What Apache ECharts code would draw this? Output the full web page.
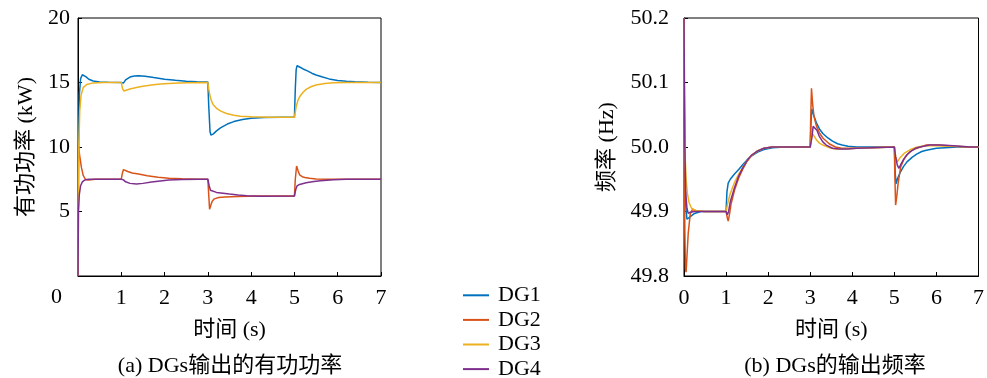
<!DOCTYPE html>
<html><head><meta charset="utf-8">
<script src="https://cdn.jsdelivr.net/npm/echarts@6/dist/echarts.min.js"></script>
<style>html,body{margin:0;padding:0;background:#fff}#c{width:987px;height:378px}</style>
</head><body><div id="c"></div>
<script>
// ---- data ----
const seriesNames = ['DG1','DG2','DG3','DG4'];
const colors = ['#0072BD','#D95319','#EDB120','#7E2F8E'];
const xTicks = [0,1,2,3,4,5,6,7];
const powerTicks = [0,5,10,15,20];
const freqTicks = [49.8,49.9,50.0,50.1,50.2];

// (a) active power, kW  [time s, value]
const powerDG1 = [[0,0],[0.01,9],[0.03,14],[0.06,15.3],[0.1,15.6],[0.13,15.63],[0.18,15.45],[0.25,15.25],[0.35,15.12],[0.5,15.04],[0.7,15.01],[1.0,15.0],[1.02,14.88],[1.05,14.95],[1.1,15.2],[1.2,15.42],[1.3,15.51],[1.4,15.53],[1.55,15.48],[1.75,15.38],[2.0,15.26],[2.25,15.17],[2.5,15.1],[2.75,15.06],[3.0,15.03],[3.02,13.2],[3.05,11.2],[3.07,10.93],[3.12,11.0],[3.2,11.25],[3.3,11.5],[3.45,11.78],[3.6,11.97],[3.8,12.13],[4.0,12.22],[4.3,12.29],[4.7,12.31],[5.0,12.3],[5.02,14.5],[5.04,16.0],[5.06,16.3],[5.12,16.2],[5.2,16.05],[5.3,15.9],[5.4,15.72],[5.5,15.58],[5.65,15.42],[5.8,15.28],[6.0,15.16],[6.2,15.09],[6.4,15.05],[6.7,15.01],[7.0,15.0]];
const powerDG2 = [[0,0],[0.01,10.1],[0.04,9.3],[0.08,8.4],[0.12,7.8],[0.17,7.5],[0.25,7.45],[0.4,7.5],[1.0,7.5],[1.02,7.9],[1.05,8.25],[1.08,8.25],[1.15,8.1],[1.25,7.98],[1.4,7.9],[1.6,7.78],[1.85,7.65],[2.1,7.58],[2.4,7.53],[2.8,7.5],[3.0,7.5],[3.02,6.3],[3.04,5.17],[3.07,5.5],[3.1,5.8],[3.15,5.98],[3.25,6.08],[3.4,6.13],[3.7,6.17],[4.2,6.2],[5.0,6.2],[5.02,7.5],[5.05,8.53],[5.08,8.2],[5.12,7.83],[5.18,7.7],[5.24,7.64],[5.35,7.57],[5.5,7.52],[5.8,7.5],[7.0,7.5]];
const powerDG3 = [[0,0],[0.01,5],[0.02,10.2],[0.04,12.8],[0.07,14.0],[0.12,14.6],[0.2,14.85],[0.35,14.97],[0.6,15.0],[1.0,15.0],[1.03,14.5],[1.06,14.34],[1.1,14.4],[1.2,14.5],[1.35,14.62],[1.5,14.71],[1.7,14.8],[1.9,14.88],[2.2,14.95],[2.5,14.99],[3.0,15.0],[3.02,14.5],[3.05,13.95],[3.08,13.6],[3.12,13.3],[3.2,13.0],[3.3,12.78],[3.43,12.6],[3.6,12.46],[3.75,12.39],[4.0,12.34],[4.4,12.31],[5.0,12.3],[5.02,12.7],[5.04,13.12],[5.08,13.6],[5.12,13.9],[5.2,14.25],[5.27,14.47],[5.38,14.67],[5.5,14.81],[5.7,14.93],[5.9,14.98],[6.2,15.0],[7.0,15.0]];
const powerDG4 = [[0,0],[0.01,5.0],[0.03,6.3],[0.06,7.0],[0.1,7.3],[0.16,7.45],[0.25,7.5],[1.0,7.5],[1.02,7.62],[1.05,7.45],[1.1,7.3],[1.2,7.18],[1.35,7.13],[1.5,7.18],[1.7,7.28],[1.9,7.37],[2.1,7.44],[2.4,7.49],[2.8,7.5],[3.0,7.5],[3.03,7.0],[3.06,6.65],[3.1,6.55],[3.2,6.48],[3.35,6.42],[3.5,6.35],[3.7,6.27],[3.9,6.22],[4.2,6.19],[5.0,6.2],[5.03,6.7],[5.06,6.98],[5.12,7.1],[5.27,7.23],[5.45,7.33],[5.6,7.39],[5.9,7.47],[6.2,7.5],[7.0,7.5]];

// (b) frequency, Hz  [time s, value]
const freqDG1 = [[0,50.2],[0.01,50.05],[0.02,49.97],[0.04,49.91],[0.07,49.888],[0.1,49.888],[0.15,49.892],[0.25,49.897],[0.4,49.9],[1.0,49.9],[1.02,49.93],[1.05,49.944],[1.1,49.95],[1.2,49.958],[1.3,49.965],[1.4,49.973],[1.5,49.98],[1.6,49.986],[1.75,49.992],[1.9,49.996],[2.1,49.999],[2.4,50.0],[3.0,50.0],[3.02,50.04],[3.04,50.059],[3.08,50.05],[3.15,50.037],[3.22,50.028],[3.3,50.021],[3.42,50.014],[3.53,50.009],[3.65,50.005],[3.76,50.003],[3.9,50.001],[4.1,50.0],[5.0,50.0],[5.02,49.96],[5.04,49.943],[5.08,49.952],[5.15,49.962],[5.22,49.97],[5.3,49.977],[5.42,49.984],[5.53,49.989],[5.65,49.993],[5.76,49.995],[6.0,49.998],[6.2,49.999],[6.5,50.0],[7.0,50.0]];
const freqDG2 = [[0,50.2],[0.01,50.0],[0.02,49.87],[0.035,49.81],[0.05,49.806],[0.07,49.83],[0.1,49.866],[0.15,49.897],[0.2,49.903],[0.3,49.901],[0.5,49.9],[1.0,49.9],[1.03,49.89],[1.05,49.885],[1.08,49.895],[1.12,49.912],[1.2,49.933],[1.3,49.952],[1.4,49.966],[1.5,49.978],[1.6,49.986],[1.75,49.994],[1.9,49.998],[2.1,50.0],[3.0,50.0],[3.01,50.04],[3.03,50.091],[3.06,50.065],[3.09,50.047],[3.15,50.032],[3.22,50.022],[3.3,50.014],[3.45,50.005],[3.6,50.0],[3.75,49.998],[4.0,49.998],[4.3,49.999],[5.0,50.0],[5.01,49.96],[5.03,49.91],[5.06,49.925],[5.09,49.944],[5.15,49.969],[5.22,49.98],[5.3,49.988],[5.42,49.995],[5.53,49.998],[5.76,50.003],[6.0,50.003],[6.3,50.002],[6.7,50.0],[7.0,50.0]];
const freqDG3 = [[0,50.2],[0.01,50.08],[0.03,49.98],[0.05,49.95],[0.08,49.928],[0.12,49.914],[0.18,49.905],[0.3,49.901],[0.5,49.9],[1.0,49.9],[1.03,49.91],[1.06,49.918],[1.1,49.928],[1.2,49.945],[1.3,49.958],[1.4,49.969],[1.5,49.979],[1.6,49.987],[1.75,49.994],[1.9,49.998],[2.1,50.0],[3.0,50.0],[3.03,50.015],[3.06,50.02],[3.1,50.016],[3.15,50.011],[3.22,50.006],[3.3,50.003],[3.45,49.999],[3.6,49.997],[3.8,49.997],[4.1,49.998],[4.5,49.999],[5.0,50.0],[5.03,49.985],[5.07,49.977],[5.12,49.982],[5.23,49.99],[5.38,49.996],[5.55,50.0],[5.75,50.002],[6.0,50.002],[6.3,50.001],[7.0,50.0]];
const freqDG4 = [[0,50.2],[0.01,50.1],[0.02,50.0],[0.04,49.93],[0.07,49.905],[0.1,49.897],[0.15,49.899],[0.25,49.9],[1.0,49.9],[1.03,49.895],[1.06,49.9],[1.1,49.915],[1.2,49.937],[1.3,49.955],[1.4,49.968],[1.5,49.979],[1.6,49.987],[1.75,49.994],[1.9,49.998],[2.1,50.0],[3.0,50.0],[3.04,50.015],[3.07,50.032],[3.11,50.034],[3.16,50.026],[3.22,50.016],[3.3,50.008],[3.38,50.003],[3.53,49.998],[3.7,49.997],[3.9,49.997],[4.1,49.998],[4.5,49.999],[5.0,50.0],[5.03,49.985],[5.07,49.972],[5.11,49.967],[5.16,49.974],[5.23,49.982],[5.3,49.988],[5.38,49.993],[5.5,49.998],[5.61,50.0],[5.84,50.003],[6.1,50.003],[6.4,50.002],[6.8,50.0],[7.0,50.0]];

const powerData = [powerDG1, powerDG2, powerDG3, powerDG4];
const freqData = [freqDG1, freqDG2, freqDG3, freqDG4];

// ---- chart ----
const FONT = "'Liberation Serif','Noto Sans CJK SC',serif";
const FS = 22;   // names, captions, legend
const TS = 22;   // tick labels
const chart = echarts.init(document.getElementById('c'), null, {renderer: 'canvas'});

function xAxisCfg(gridIndex, hideZero) {
  return {
    type: 'value', gridIndex, min: xTicks[0], max: xTicks[xTicks.length-1], interval: 1,
    name: '时间 (s)', nameLocation: 'middle', nameGap: 43,
    nameTextStyle: {fontFamily: FONT, fontSize: FS, color: '#000'},
    axisLine: {show: true, lineStyle: {color: '#000', width: 1}},
    axisTick: {show: true, inside: true, length: 4, lineStyle: {color: '#000'}},
    axisLabel: {show: true, margin: 11, fontFamily: FONT, fontSize: TS, color: '#000',
      formatter: v => (hideZero && v === 0) ? '' : String(v)},
    splitLine: {show: false}
  };
}

const series = [];
seriesNames.forEach((n, i) => {
  series.push({name: n, type: 'line', xAxisIndex: 0, yAxisIndex: 0, data: powerData[i],
    showSymbol: false, symbol: 'none', lineStyle: {width: 1.5, color: colors[i]}, itemStyle: {color: colors[i]},
    animation: false, z: 2 + i});
});
seriesNames.forEach((n, i) => {
  series.push({name: n, type: 'line', xAxisIndex: 1, yAxisIndex: 1, data: freqData[i],
    showSymbol: false, symbol: 'none', lineStyle: {width: 1.5, color: colors[i]}, itemStyle: {color: colors[i]},
    animation: false, z: 2 + i});
});

chart.setOption({
  animation: false,
  backgroundColor: '#fff',
  grid: [
    {left: 78, top: 18, width: 303, height: 258, show: true, borderColor: '#000', borderWidth: 1, backgroundColor: 'transparent'},
    {left: 684, top: 18, width: 302, height: 258, show: true, borderColor: '#000', borderWidth: 1, backgroundColor: 'transparent'}
  ],
  xAxis: [xAxisCfg(0, true), xAxisCfg(1, false)],
  yAxis: [
    {type: 'value', gridIndex: 0, min: powerTicks[0], max: powerTicks[powerTicks.length-1], interval: 5,
      name: '有功功率 (kW)', nameLocation: 'middle', nameRotate: 90, nameGap: 41,
      nameTextStyle: {fontFamily: FONT, fontSize: FS, color: '#000'},
      axisLine: {show: true, lineStyle: {color: '#000'}},
      axisTick: {show: true, inside: true, length: 4, lineStyle: {color: '#000'}},
      axisLabel: {margin: 8, fontFamily: FONT, fontSize: TS, color: '#000', formatter: v => v === 0 ? '' : String(v)},
      splitLine: {show: false}},
    {type: 'value', gridIndex: 1, min: freqTicks[0], max: freqTicks[freqTicks.length-1], interval: 0.1,
      name: '频率 (Hz)', nameLocation: 'middle', nameRotate: 90, nameGap: 66,
      nameTextStyle: {fontFamily: FONT, fontSize: FS, color: '#000'},
      axisLine: {show: true, lineStyle: {color: '#000'}},
      axisTick: {show: true, inside: true, length: 4, lineStyle: {color: '#000'}},
      axisLabel: {margin: 15, fontFamily: FONT, fontSize: TS, color: '#000', formatter: v => v.toFixed(1)},
      splitLine: {show: false}}
  ],
  legend: {
    data: seriesNames, orient: 'vertical', left: 458, top: 278, height: 110, itemGap: 0,
    itemWidth: 26, itemHeight: 2, icon: 'rect',
    textStyle: {fontFamily: FONT, fontSize: FS, color: '#000', lineHeight: 24.6, padding: [0, 0, 0, 4]}
  },
  graphic: [
    {type: 'text', left: 51, top: 286, style: {text: '0', font: TS + "px " + FONT, fill: '#000'}},
    {type: 'text', x: 230, y: 366, style: {text: '(a) DGs输出的有功功率', font: FS + "px " + FONT, fill: '#000', align: 'center', verticalAlign: 'middle'}},
    {type: 'text', x: 835, y: 366, style: {text: '(b) DGs的输出频率', font: FS + "px " + FONT, fill: '#000', align: 'center', verticalAlign: 'middle'}}
  ],
  series
});
</script></body></html>
